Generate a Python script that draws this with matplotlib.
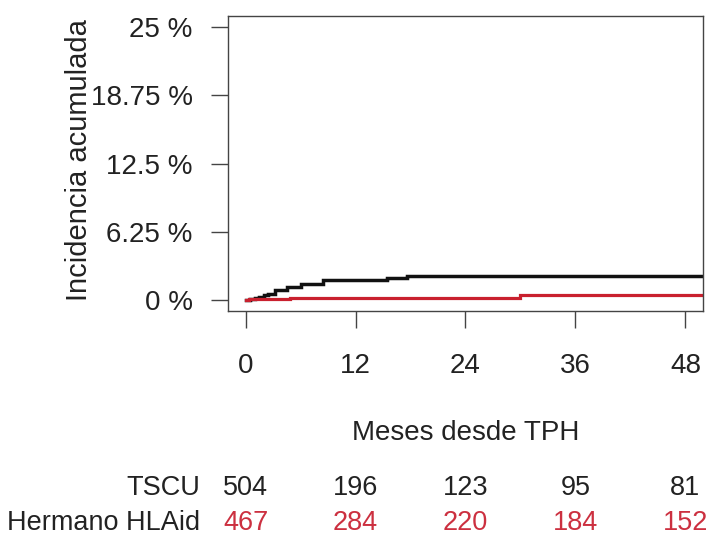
import matplotlib
matplotlib.use("Agg")
import matplotlib.pyplot as plt
from matplotlib.transforms import blended_transform_factory

plt.rcParams['font.family'] = ['Liberation Sans', 'DejaVu Sans']

# Data (percent cumulative incidence, step functions)
tscu_time = [0, 0.5, 1.0, 1.5, 2.0, 2.5, 3.2, 4.5, 6.1, 8.5, 15.4, 17.6, 52]
tscu_inc = [0, 0.1, 0.2, 0.3, 0.45, 0.6, 0.9, 1.2, 1.5, 1.8, 2.0, 2.2, 2.2]
hla_time = [0, 0.4, 4.9, 29.9, 52]
hla_inc = [0, 0.1, 0.22, 0.5, 0.5]

x_ticks = [0, 12, 24, 36, 48]
y_ticks = [0, 6.25, 12.5, 18.75, 25]
y_tick_labels = ["0 %", "6.25 %", "12.5 %", "18.75 %", "25 %"]
group_labels = ["TSCU", "Hermano HLAid"]
risk_tscu = [504, 196, 123, 95, 81]
risk_hla = [467, 284, 220, 184, 152]

BLACK = "#111111"
RED_LINE = "#c9202e"
RED_TEXT = "#cc3040"
TXT = "#222222"
FS = 20

W, H = 708, 537
fig = plt.figure(figsize=(W / 100, H / 100), dpi=100)
ax = fig.add_axes([228 / W, 1 - 311 / H, (703 - 228) / W, (311 - 16) / H])

ax.plot(tscu_time, tscu_inc, drawstyle="steps-post", color=BLACK, lw=2.5, solid_joinstyle="miter")
ax.plot(hla_time, hla_inc, drawstyle="steps-post", color=RED_LINE, lw=2.3, solid_joinstyle="miter")

ax.set_xlim(-1.92, 49.92)
ax.set_ylim(-1, 26)

for s in ax.spines.values():
    s.set_color("#444444")
    s.set_linewidth(1.0)

ax.set_xticks(x_ticks)
ax.set_xticklabels([str(v) for v in x_ticks])
ax.set_yticks(y_ticks)
ax.set_yticklabels(y_tick_labels)
ax.tick_params(axis="both", direction="out", length=12.5, width=1.0, color="#444444",
               labelsize=FS, labelcolor=TXT)
ax.tick_params(axis="x", pad=18)
ax.tick_params(axis="y", pad=13)

# axis titles
fig.text(79 / W, 1 - 160 / H, "Incidencia acumulada", rotation=90, ha="center", va="center",
         fontsize=21, color=TXT)
fig.text(465.5 / W, 1 - 433 / H, "Meses desde TPH", ha="center", va="center",
         fontsize=FS, color=TXT)

# risk table
tr = blended_transform_factory(ax.transData, fig.transFigure)
y_row1 = 1 - 488 / H
y_row2 = 1 - 523 / H
fig.text(200 / W, y_row1, group_labels[0], ha="right", va="center", fontsize=19.5, color=TXT)
fig.text(200 / W, y_row2, group_labels[1], ha="right", va="center", fontsize=19.5, color=TXT)
for xv, n1, n2 in zip(x_ticks, risk_tscu, risk_hla):
    ax.text(xv, y_row1, str(n1), transform=tr, ha="center", va="center", fontsize=19.5,
            color=TXT, clip_on=False)
    ax.text(xv, y_row2, str(n2), transform=tr, ha="center", va="center", fontsize=19.5,
            color=RED_TEXT, clip_on=False)

fig.savefig("out.png", dpi=100)
